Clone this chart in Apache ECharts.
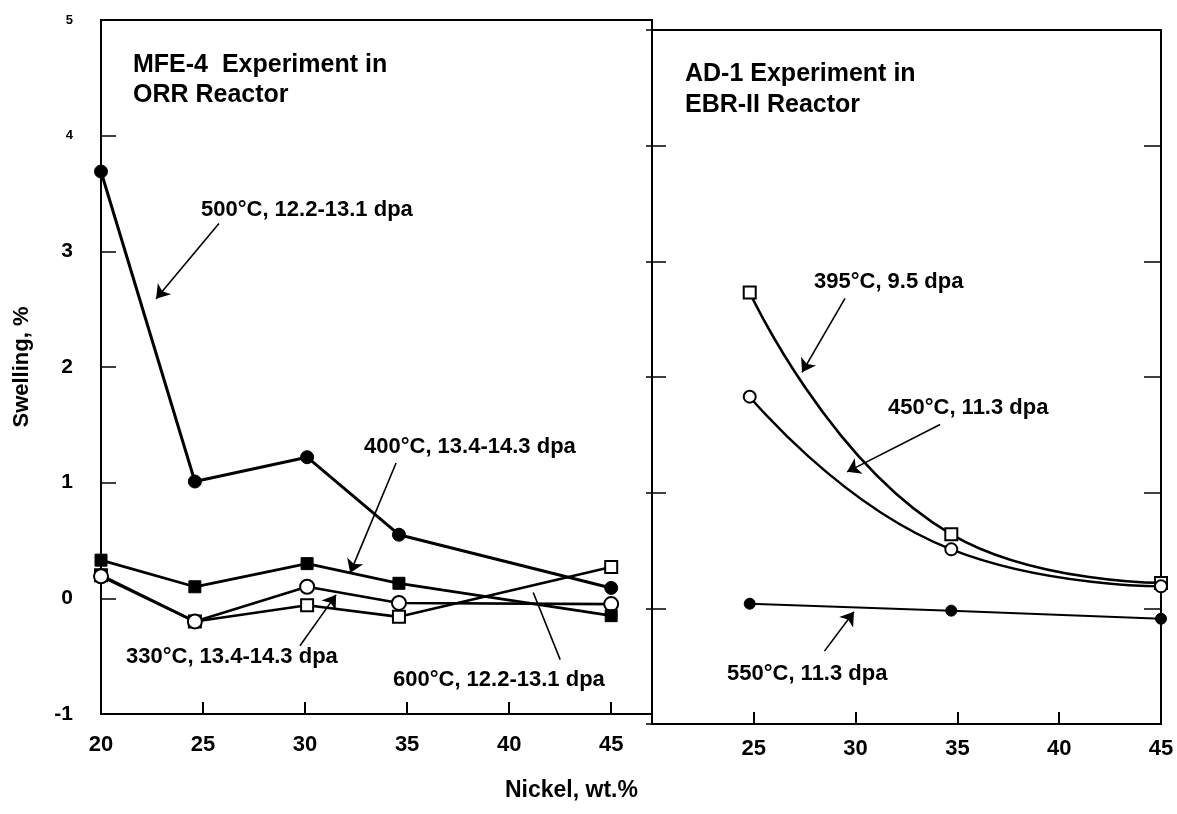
<!DOCTYPE html>
<html><head><meta charset="utf-8">
<script src="https://cdn.jsdelivr.net/npm/echarts@6/dist/echarts.min.js"></script>
<style>html,body{margin:0;padding:0;background:#fff}#c{width:1177px;height:814px}</style>
</head><body><div id="c"></div>
<script>
// ---- data ----
const nickelLeft = [20, 24.6, 30.1, 34.6, 45];
const swell500 = [3.69, 1.01, 1.22, 0.55, 0.09];
const swell400 = [0.33, 0.10, 0.30, 0.13, -0.15];
const swell330 = [0.19, -0.20, 0.10, -0.04, -0.05];
const swell600 = [0.20, -0.20, -0.06, -0.16, 0.27];

const nickelRight = [24.8, 34.7, 45];
const swell395 = [2.73, 0.64, 0.22];
const swell450 = [1.83, 0.51, 0.19];
const swell550 = [0.04, -0.02, -0.09];

const yTicks = [-1, 0, 1, 2, 3, 4, 5];
const xTicksLeft = [20, 25, 30, 35, 40, 45];
const xTicksRight = [25, 30, 35, 40, 45];

const labelsLeft = {
  s500: '500°C, 12.2-13.1 dpa', s400: '400°C, 13.4-14.3 dpa',
  s330: '330°C, 13.4-14.3 dpa', s600: '600°C, 12.2-13.1 dpa'
};
const labelsRight = { s395: '395°C, 9.5 dpa', s450: '450°C, 11.3 dpa', s550: '550°C, 11.3 dpa' };

// annotation arrows (data units)
const arrow500 = [[25.78, 3.24], [22.70, 2.59]];
const arrow400 = [[34.46, 1.17], [32.21, 0.22]];
const arrow330 = [[29.75, -0.41], [31.52, 0.03]];
const line600 = [[42.5, -0.53], [41.18, 0.05]];
const arrow395 = [[29.48, 2.68], [27.37, 2.04]];
const arrow450 = [[34.15, 1.59], [29.58, 1.18]];
const arrow550 = [[28.47, -0.37], [29.92, -0.03]];

// ---- chart ----
const FONT = "'Liberation Sans', Arial, sans-serif";
const pairs = (xs, ys) => xs.map((x, i) => [x, ys[i]]);
const mk = (seg, arrow) => ({
  silent: true, animation: false,
  symbol: arrow ? ['none', 'arrow'] : ['none', 'none'], symbolSize: 13,
  label: { show: false },
  lineStyle: { color: '#000', width: 1.6, type: 'solid' },
  itemStyle: { color: '#000' },
  emphasis: { disabled: true },
  data: [[{ coord: seg[0] }, { coord: seg[1] }]]
});
const openStyle = { color: '#fff', borderColor: '#000', borderWidth: 2 };
const fillStyle = { color: '#000', borderColor: '#000', borderWidth: 1 };

function lineSeries(xi, yi, data, symbol, size, filled, width, extra) {
  return Object.assign({
    type: 'line', xAxisIndex: xi, yAxisIndex: yi, data: data,
    symbol: symbol, symbolSize: size, showAllSymbol: true, clip: false,
    lineStyle: { color: '#000', width: width },
    itemStyle: filled ? fillStyle : openStyle,
    emphasis: { disabled: true }, animation: false, z: 3
  }, extra || {});
}

const yLab = {
  fontFamily: FONT, fontWeight: 'bold', color: '#000', margin: 28,
  formatter: v => (v >= 4 ? '{s|' + v + '}' : '{b|' + v + '}'),
  rich: { s: { fontSize: 13, fontWeight: 'bold', fontFamily: FONT }, b: { fontSize: 21, fontWeight: 'bold', fontFamily: FONT } }
};
const axisLineS = { show: true, onZero: false, lineStyle: { color: '#000', width: 2 } };

const option = {
  backgroundColor: '#fff',
  animation: false,
  grid: [
    { left: 101, top: 20, width: 551, height: 694, show: true, borderColor: '#000', borderWidth: 2, backgroundColor: 'transparent' },
    { left: 652, top: 30, width: 509, height: 694, show: true, borderColor: '#000', borderWidth: 2, backgroundColor: 'transparent' }
  ],
  xAxis: [
    { type: 'value', gridIndex: 0, position: 'bottom', min: 20, max: 47, interval: 5, splitLine: { show: false },
      axisLine: axisLineS, axisTick: { inside: true, length: 12, lineStyle: { color: '#000', width: 2 } },
      axisLabel: { fontFamily: FONT, fontWeight: 'bold', fontSize: 22, color: '#000', margin: 20,
        formatter: v => (xTicksLeft.indexOf(v) >= 0 ? String(v) : '') } },
    { type: 'value', gridIndex: 1, position: 'bottom', min: 20, max: 45, interval: 5, splitLine: { show: false },
      axisLine: axisLineS, axisTick: { inside: true, length: 12, lineStyle: { color: '#000', width: 2 } },
      axisLabel: { fontFamily: FONT, fontWeight: 'bold', fontSize: 22, color: '#000', margin: 14,
        formatter: v => (xTicksRight.indexOf(v) >= 0 ? String(v) : '') } }
  ],
  yAxis: [
    { type: 'value', gridIndex: 0, position: 'left', min: -1, max: 5, interval: 1, splitLine: { show: false },
      axisLine: axisLineS, axisTick: { inside: true, length: 15, lineStyle: { color: '#000', width: 1.5 } },
      axisLabel: yLab,
      name: 'Swelling, %', nameLocation: 'middle', nameGap: 68,
      nameTextStyle: { fontFamily: FONT, fontWeight: 'bold', fontSize: 22, color: '#000' } },
    { type: 'value', gridIndex: 1, position: 'left', min: -1, max: 5, interval: 1, splitLine: { show: false },
      axisLine: axisLineS, axisTick: { inside: true, length: 14, lineStyle: { color: '#000', width: 1.5 } },
      axisLabel: { show: false } },
    { type: 'value', gridIndex: 1, position: 'left', min: -1, max: 5, interval: 1, splitLine: { show: false },
      axisLine: { show: false }, axisTick: { inside: false, length: 6, lineStyle: { color: '#000', width: 1.5 } },
      axisLabel: { show: false } },
    { type: 'value', gridIndex: 1, position: 'right', min: -1, max: 5, interval: 1, splitLine: { show: false },
      axisLine: axisLineS, axisTick: { inside: true, length: 17, lineStyle: { color: '#000', width: 1.5 } },
      axisLabel: { show: false } }
  ],
  series: [
    lineSeries(0, 0, pairs(nickelLeft, swell600), 'rect', 12, false, 2.6, { markLine: mk(line600, false) }),
    lineSeries(0, 0, pairs(nickelLeft, swell330), 'circle', 14, false, 2.6, { markLine: mk(arrow330, true) }),
    lineSeries(0, 0, pairs(nickelLeft, swell400), 'rect', 12, true, 2.8, { markLine: mk(arrow400, true) }),
    lineSeries(0, 0, pairs(nickelLeft, swell500), 'circle', 13, true, 3, { markLine: mk(arrow500, true) }),
    lineSeries(1, 1, pairs(nickelRight, swell395), 'rect', 12, false, 2.6, { smooth: 0.5, markLine: mk(arrow395, true) }),
    lineSeries(1, 1, pairs(nickelRight, swell450), 'circle', 12, false, 2.4, { smooth: 0.5, markLine: mk(arrow450, true) }),
    lineSeries(1, 1, pairs(nickelRight, swell550), 'circle', 11, true, 2, { markLine: mk(arrow550, true) })
  ],
  graphic: [
    { type: 'text', left: 133, top: 50, style: { text: 'MFE-4  Experiment in\nORR Reactor', font: 'bold 25px ' + FONT, fill: '#000', lineHeight: 30 } },
    { type: 'text', left: 685, top: 59, style: { text: 'AD-1 Experiment in\nEBR-II Reactor', font: 'bold 25px ' + FONT, fill: '#000', lineHeight: 31 } },
    { type: 'text', left: 201, top: 199, style: { text: labelsLeft.s500, font: 'bold 22px ' + FONT, fill: '#000' } },
    { type: 'text', left: 364, top: 436, style: { text: labelsLeft.s400, font: 'bold 22px ' + FONT, fill: '#000' } },
    { type: 'text', left: 126, top: 646, style: { text: labelsLeft.s330, font: 'bold 22px ' + FONT, fill: '#000' } },
    { type: 'text', left: 393, top: 669, style: { text: labelsLeft.s600, font: 'bold 22px ' + FONT, fill: '#000' } },
    { type: 'text', left: 814, top: 271, style: { text: labelsRight.s395, font: 'bold 22px ' + FONT, fill: '#000' } },
    { type: 'text', left: 888, top: 397, style: { text: labelsRight.s450, font: 'bold 22px ' + FONT, fill: '#000' } },
    { type: 'text', left: 727, top: 663, style: { text: labelsRight.s550, font: 'bold 22px ' + FONT, fill: '#000' } },
    { type: 'text', left: 505, top: 779, style: { text: 'Nickel, wt.%', font: 'bold 23px ' + FONT, fill: '#000' } }
  ]
};
const chart = echarts.init(document.getElementById('c'), null, { renderer: 'canvas' });
chart.setOption(option);
</script>
</body></html>
